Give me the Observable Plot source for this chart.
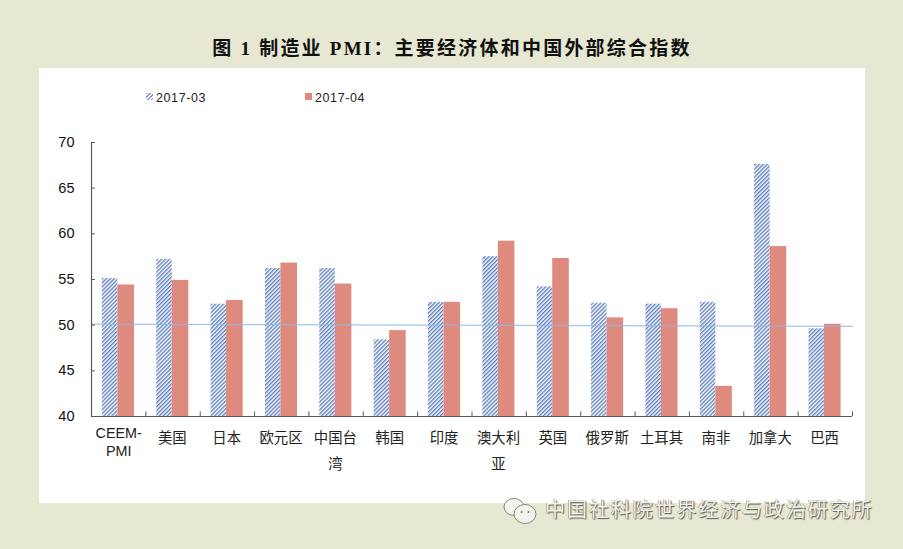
<!DOCTYPE html>
<html lang="zh">
<head>
<meta charset="utf-8">
<script src="https://cdn.jsdelivr.net/npm/d3@7"></script>
<script src="https://cdn.jsdelivr.net/npm/@observablehq/plot@0.6"></script>
<style>
  html, body { margin: 0; padding: 0; background: #e6e8d1; overflow: hidden; }
  #page { position: relative; width: 903px; height: 549px; overflow: hidden; font-family: "Liberation Sans", "Noto Sans CJK SC", sans-serif; }
  #panel { position: absolute; left: 39px; top: 68px; width: 826px; height: 435px; background: #ffffff; }
  #title { position: absolute; left: 0; width: 904px; top: 35px; text-align: center; font: 700 19px/28px "Liberation Serif", "Noto Sans CJK SC", serif; letter-spacing: 2.22px; color: #111; white-space: pre; }
  #chart { position: absolute; left: 0; top: 0; }
  #chart svg { display: block; background: transparent; }
  .lg { position: absolute; top: 90px; font-size: 12.5px; line-height: 16px; color: #222; letter-spacing: .6px; }
  .sw { position: absolute; top: 93px; width: 7px; height: 7px; }
  #mark { position: absolute; left: 545px; top: 493px; font: 400 20px/32px "Noto Sans CJK SC", sans-serif; letter-spacing: 1.9px; color: #f4f4ec; white-space: pre; text-shadow: 1px 1px 1px #555, -.5px -.5px .5px #777; }
  #icon { position: absolute; left: 502px; top: 496px; }
</style>
</head>
<body>
<div id="page">
  <div id="panel"></div>
  <div id="title">图 1 制造业 PMI：主要经济体和中国外部综合指数</div>
  <div id="chart"></div>
  <div class="sw" style="left:146px;background:repeating-linear-gradient(135deg,#7e98d0 0 1.2px,#fff 1.2px 2.6px)"></div>
  <div class="lg" style="left:156px">2017-03</div>
  <div class="sw" style="left:305px;background:#df8a7e"></div>
  <div class="lg" style="left:315px">2017-04</div>
  <svg id="icon" width="36" height="30" viewBox="0 0 36 30" fill="#f4f4ec" stroke="#888" stroke-width="1">
    <ellipse cx="12" cy="11" rx="10" ry="8.5"/>
    <ellipse cx="23" cy="18" rx="11" ry="9.5"/>
    <circle cx="19.5" cy="16" r="1" fill="#777" stroke="none"/>
    <circle cx="26.5" cy="16" r="1" fill="#777" stroke="none"/>
  </svg>
  <div id="mark">中国社科院世界经济与政治研究所</div>
</div>
<script>
const categories = ["CEEM-PMI","美国","日本","欧元区","中国台湾","韩国","印度","澳大利亚","英国","俄罗斯","土耳其","南非","加拿大","巴西"];
const singleLineLabels = ["美国","日本","欧元区","韩国","印度","英国","俄罗斯","土耳其","南非","加拿大","巴西"];
const wrappedLabels = ["中国台\n湾","澳大利\n亚"];
const wrappedIndex = [4, 7];
const march = [55.1,57.2,52.3,56.2,56.2,48.4,52.5,57.5,54.2,52.4,52.3,52.5,67.6,49.6];
const april = [54.4,54.9,52.7,56.8,54.5,49.4,52.5,59.2,57.3,50.8,51.8,43.3,58.6,50.1];
const threshold = [[0,50.12],[14,49.86]];
const yTicks = [40,45,50,55,60,65,70];

const rows = categories.map((c,i)=>({c,i,march:march[i],april:april[i]}));
const hatch = () => {
  const defs = d3.create("svg:defs");
  const p = defs.append("pattern").attr("id","hatch").attr("width",2.8).attr("height",2.8)
    .attr("patternUnits","userSpaceOnUse").attr("patternTransform","rotate(45)");
  p.append("rect").attr("width",2.8).attr("height",2.8).attr("fill","#fff");
  p.append("rect").attr("width",1.4).attr("height",2.8).attr("fill","#5f80c2");
  return defs.node();
};
const axisColor = "#595959", textColor = "#222";
const chart = Plot.plot({
  width: 903, height: 549,
  marginLeft: 91, marginRight: 51, marginTop: 142, marginBottom: 133,
  style: {background:"transparent", fontFamily:'"Liberation Sans","Noto Sans CJK SC",sans-serif'},
  x: {type:"linear", domain:[0,14], axis:null},
  y: {domain:[40,70], axis:null},
  marks: [
    hatch,
    Plot.rectY(rows,{x1:d=>d.i+.2,x2:d=>d.i+.485,y1:40,y2:"march",fill:"url(#hatch)"}),
    Plot.rectY(rows,{x1:d=>d.i+.485,x2:d=>d.i+.79,y1:40,y2:"april",fill:"#df8a7e"}),
    Plot.line(threshold,{x:d=>d[0],y:d=>d[1],stroke:"#8fb8e0",strokeWidth:1.2,strokeOpacity:.8}),
    Plot.ruleX([0],{y1:40,y2:70,stroke:axisColor,strokeWidth:1.2}),
    Plot.ruleY([40],{x1:0,x2:14,stroke:axisColor,strokeWidth:1.2}),
    Plot.ruleY(yTicks,{x1:0,x2:.07,stroke:axisColor}),
    Plot.ruleX(d3.range(15),{y1:40,y2:40.5,stroke:axisColor}),
    Plot.axisY({ticks:yTicks,tickSize:0,tickPadding:17,fontSize:14.5,label:null,fill:"#111"}),
    Plot.text(singleLineLabels,{x:d=>categories.indexOf(d)+.5,y:40,dx:-.7,dy:22,text:d=>d,fontSize:14.4,fill:textColor}),
    Plot.text(["CEEM-\nPMI"],{x:.5,y:40,dy:25,text:d=>d,fontSize:14.4,lineHeight:1.2,fill:textColor}),
    Plot.text(wrappedLabels,{x:(d,i)=>wrappedIndex[i]+.5,y:40,dx:-.7,dy:31,text:d=>d,fontSize:14.4,lineHeight:1.8,fill:textColor})
  ]
});
document.getElementById("chart").append(chart);
</script>
</body>
</html>
